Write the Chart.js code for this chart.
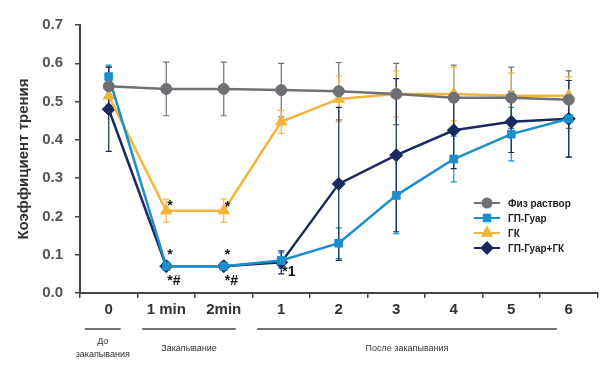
<!DOCTYPE html>
<html>
<head>
  <meta charset="utf-8" />
  <script src="https://cdn.jsdelivr.net/npm/chart.js"></script>
  <style>
    body { margin: 0; background: #fff; }
    canvas { display: block; }
  </style>
</head>
<body>
  <canvas id="chart" width="605" height="385"></canvas>
  <script>
    const labels = ['0', '1 min', '2min', '1', '2', '3', '4', '5', '6'];

    const saline    = [0.54, 0.533, 0.533, 0.53, 0.527, 0.52, 0.51, 0.51, 0.505];
    const salineErr = [0.05, 0.07, 0.07, 0.07, 0.075, 0.08, 0.085, 0.08, 0.075];
    const guar      = [0.565, 0.07, 0.07, 0.085, 0.13, 0.255, 0.35, 0.415, 0.455];
    const guarErr   = [0.03, 0.01, 0.01, 0.02, 0.04, 0.1, 0.06, 0.07, 0.1];
    const gk        = [0.515, 0.215, 0.215, 0.447, 0.507, 0.52, 0.52, 0.515, 0.515];
    const gkErr     = [0.03, 0.03, 0.03, 0.03, 0.06, 0.06, 0.07, 0.06, 0.05];
    const mix       = [0.48, 0.07, 0.07, 0.08, 0.285, 0.36, 0.425, 0.447, 0.455];
    const mixErr    = [0.11, 0.01, 0.01, 0.03, 0.2, 0.2, 0.1, 0.08, 0.1];

    // [category index, value, text]
    const marks = [
      [1, 0.238, '*'], [2, 0.235, '*'],
      [1, 0.11, '*'], [2, 0.11, '*'],
      [1, 0.042, '*#'], [2, 0.042, '*#'],
      [3, 0.065, '*1']
    ];

    const groups = [
      { text: ['До', 'закапывания'], from: 0, to: 0 },
      { text: ['Закапывание'], from: 1, to: 2 },
      { text: ['После закапывания'], from: 3, to: 8 }
    ];

    const errors = [salineErr, guarErr, gkErr, mixErr];

    const errorBars = {
      id: 'errorBars',
      beforeDatasetsDraw(chart) {
        const { ctx, scales: { x, y } } = chart;
        ctx.save();
        chart.data.datasets.forEach((ds, i) => {
          ctx.strokeStyle = ds.borderColor;
          ctx.lineWidth = 1.2;
          ds.data.forEach((v, j) => {
            const e = errors[i][j];
            const px = x.getPixelForValue(j);
            const top = y.getPixelForValue(v + e);
            const bot = y.getPixelForValue(v - e);
            ctx.beginPath();
            ctx.moveTo(px, top); ctx.lineTo(px, bot);
            ctx.moveTo(px - 3, top); ctx.lineTo(px + 3, top);
            ctx.moveTo(px - 3, bot); ctx.lineTo(px + 3, bot);
            ctx.stroke();
          });
        });
        ctx.restore();
      }
    };

    const extras = {
      id: 'extras',
      afterDraw(chart) {
        const { ctx, scales: { x, y } } = chart;
        ctx.save();
        // significance marks
        ctx.fillStyle = '#111';
        ctx.font = 'bold 14px "Liberation Sans", Arial, sans-serif';
        ctx.textAlign = 'left';
        ctx.textBaseline = 'middle';
        marks.forEach(([i, v, t]) => {
          ctx.fillText(t, x.getPixelForValue(i) + 1, y.getPixelForValue(v) + 4);
        });

        // group underlines and captions
        ctx.strokeStyle = '#444';
        ctx.lineWidth = 1.5;
        ctx.fillStyle = '#333';
        ctx.font = '9px "Liberation Sans", Arial, sans-serif';
        ctx.textAlign = 'center';
        groups.forEach(g => {
          const a = x.getPixelForValue(g.from) - 24;
          const b = x.getPixelForValue(g.to) + (g.to === 8 ? -12 : 12);
          ctx.beginPath();
          ctx.moveTo(a, 329); ctx.lineTo(b, 329);
          ctx.stroke();
          const cx = (a + b) / 2;
          if (g.text.length === 1) {
            ctx.fillText(g.text[0], cx, 349);
          } else {
            ctx.fillText(g.text[0], cx, 342);
            ctx.fillText(g.text[1], cx, 355);
          }
        });

        // legend
        ctx.font = 'bold 10px "Liberation Sans", Arial, sans-serif';
        ctx.textAlign = 'left';
        chart.data.datasets.forEach((ds, i) => {
          const ly = 203 + i * 15;
          ctx.strokeStyle = ds.borderColor;
          ctx.lineWidth = 2;
          ctx.beginPath();
          ctx.moveTo(474, ly); ctx.lineTo(500, ly);
          ctx.stroke();
          ctx.fillStyle = ds.backgroundColor;
          Chart.helpers.drawPoint(ctx, {
            pointStyle: ds.pointStyle, radius: ds.pointRadius - 1,
            borderWidth: 1
          }, 487, ly);
          ctx.fill();
          ctx.fillStyle = '#222';
          ctx.fillText(ds.label, 508, ly + 1);
        });
        ctx.restore();
      }
    };

    const ctx = document.getElementById('chart').getContext('2d');

    new Chart(ctx, {
      type: 'line',
      data: {
        labels: labels,
        datasets: [
          { label: 'Физ раствор', data: saline, borderColor: '#6e7073', backgroundColor: '#6e7073',
            pointStyle: 'circle', pointRadius: 5.5 },
          { label: 'ГП-Гуар', data: guar, borderColor: '#1c8fcb', backgroundColor: '#1c8fcb',
            pointStyle: 'rect', pointRadius: 5.5 },
          { label: 'ГК', data: gk, borderColor: '#f2b53c', backgroundColor: '#f2b53c',
            pointStyle: 'triangle', pointRadius: 6.5 },
          { label: 'ГП-Гуар+ГК', data: mix, borderColor: '#1b2a5e', backgroundColor: '#1b2a5e',
            pointStyle: 'rectRot', pointRadius: 6.5 }
        ]
      },
      options: {
        responsive: false,
        animation: false,
        elements: { line: { borderWidth: 2.5, tension: 0 }, point: { borderWidth: 1 } },
        layout: { padding: { top: 25, right: 0, left: 0, bottom: 0 } },
        plugins: { legend: { display: false }, tooltip: { enabled: false } },
        scales: {
          x: {
            offset: true,
            grid: { offset: true, drawOnChartArea: false, tickLength: 5, color: '#444', lineWidth: 1.5 },
            border: { color: '#444', width: 2 },
            ticks: { color: '#333', padding: 3, font: { size: 15, weight: 'bold', family: '"Liberation Sans", Arial, sans-serif' } },
            afterFit(s) { s.height = 92; }
          },
          y: {
            min: 0, max: 0.7,
            grid: { drawOnChartArea: false, tickLength: 5, color: '#444', lineWidth: 1.5 },
            border: { color: '#444', width: 2 },
            ticks: {
              stepSize: 0.1, color: '#555', padding: 12,
              font: { size: 15, weight: 'bold', family: '"Liberation Sans", Arial, sans-serif' },
              callback: v => Number(v).toFixed(1)
            },
            title: {
              display: true, text: 'Коэффициент трения', color: '#333', padding: { top: 15, bottom: 0 },
              font: { size: 15, weight: 'bold', family: '"Liberation Sans", Arial, sans-serif' }
            },
            afterFit(s) { s.width = 80; }
          }
        }
      },
      plugins: [errorBars, extras]
    });
  </script>
</body>
</html>
